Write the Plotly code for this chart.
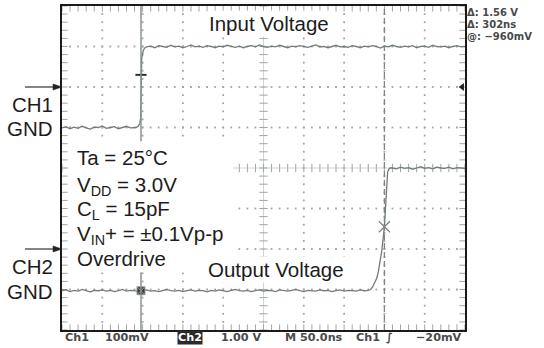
import plotly.graph_objects as go

# ---------------- channel data ----------------
# CH1 (input, mV) : flat low level, edge, flat high level
ch1_low_t = list(range(0, 95, 5))
ch1_low_mv = [-101, -98, -103, -99, -102, -97, -101, -104, -99, -100,
              -96, -102, -100, -98, -103, -100, -97, -101, -99]
ch1_edge_t = [92, 94.5, 96.5, 97.6, 98.2, 98.9, 100.9, 103]
ch1_edge_mv = [-100, -97, -90, -77, -5, 71, 91, 97]
ch1_high_t = list(range(105, 505, 5))
ch1_high_mv = [99, 101, 97, 102, 100, 98, 103, 99, 101, 97,
               100, 104, 99, 101, 98, 102, 100, 97, 101, 99,
               103, 100, 98, 101, 97, 100, 102, 99, 104, 100,
               98, 101, 99, 103, 100, 97, 101, 99, 102, 100,
               98, 101, 104, 99, 100, 97, 101, 103, 99, 100,
               98, 102, 100, 97, 101, 99, 102, 100, 96, 101,
               99, 103, 100, 98, 101, 99, 102, 97, 100, 101,
               98, 103, 100, 99, 101, 97, 100, 102, 99, 100]

# CH2 (output, V)
ch2_low_t = list(range(0, 385, 5))
ch2_low_v = [-1.03, -1.01, -1.05, -1.02, -1.04, -1.00, -1.03, -1.06, -1.02, -1.03,
             -1.01, -1.04, -1.02, -1.05, -1.03, -1.00, -1.04, -1.02, -1.03, -1.06,
             -1.02, -1.01, -1.04, -1.03, -1.05, -1.02, -1.00, -1.03, -1.04, -1.02,
             -1.05, -1.03, -1.01, -1.04, -1.02, -1.03, -1.06, -1.02, -1.04, -1.01,
             -1.03, -1.05, -1.02, -1.00, -1.03, -1.04, -1.02, -1.05, -1.03, -1.01,
             -1.04, -1.02, -1.03, -1.05, -1.01, -1.03, -1.04, -1.02, -1.00, -1.03,
             -1.05, -1.02, -1.03, -1.04, -1.01, -1.03, -1.02, -1.05, -1.03, -1.01,
             -1.04, -1.02, -1.03, -1.04, -1.01, -1.03, -1.02]
ch2_edge_t = [383, 385.5, 388, 390.5, 392.5, 394.5, 396.8, 400, 401.5, 402.8, 404, 405.5, 407]
ch2_edge_v = [-1.00, -0.93, -0.84, -0.72, -0.56, -0.36, -0.04, 0.55, 1.20, 1.70, 1.90, 1.97, 2.00]
ch2_high_t = list(range(410, 505, 5))
ch2_high_v = [2.00, 1.98, 2.02, 1.99, 2.01, 1.97, 2.00, 2.03, 1.99, 2.01,
              1.98, 2.02, 2.00, 1.99, 2.02, 1.98, 2.01, 2.00, 1.99]

# cursors / trigger
cursor_t1 = 98
cursor_t2 = 400
cursor1_ch1_mv = 30
cursor1_ch2_v = -1.03
cursor2_ch2_v = 0.55
trig_marker_mv = 0

# readouts
readouts = ["Δ: 1.56 V", "Δ: 302ns", "@: −960mV"]
bottom_labels = ["Ch1", "100mV", "Ch2", "1.00 V", "M 50.0ns", "Ch1", "∫", "−20mV"]
cond_lines = ["Ta = 25°C", "V<sub>DD</sub> = 3.0V", "C<sub>L</sub> = 15pF",
              "V<sub>IN</sub>+ = ±0.1Vp-p", "Overdrive"]

# screen scale: 10 x 50 ns, 8 x 100 mV (CH1) / 1 V (CH2)
T_RANGE = [0, 500]
CH1_RANGE = [-600, 200]
CH2_RANGE = [-2, 6]

# plot area in pixels
W, H = 544, 348
PL, PR, PT, PB = 62, 465, 4, 330


def px(xp, yp):
    return (xp - PL) / (PR - PL), (PB - yp) / (PB - PT)


fig = go.Figure()

GRID = "#9ea6a6"
TRACE = "#727a7a"

# ---- graticule dots ----
major_t = [50 * i for i in range(11)]
minor_t = [10 * i for i in range(51)]
major_mv = [-600 + 100 * i for i in range(9)]
minor_mv = [-600 + 20 * i for i in range(41)]
center_t, center_mv = 250, -200

gx, gy = [], []
for t in major_t:
    if t in (0, 500, center_t):
        continue
    for m in minor_mv[1:-1]:
        gx.append(t)
        gy.append(m)
for m in major_mv:
    if m in (-600, 200, center_mv):
        continue
    for t in minor_t[1:-1]:
        gx.append(t)
        gy.append(m)
fig.add_trace(go.Scatter(x=gx, y=gy, mode="markers", hoverinfo="skip",
                         marker=dict(symbol="square", size=1.8, color=GRID, line=dict(width=0))))

# centre axes with tick marks
fig.add_trace(go.Scatter(x=[0, 500], y=[center_mv, center_mv], mode="lines", hoverinfo="skip",
                         line=dict(color="#c4caca", width=0.8)))
fig.add_trace(go.Scatter(x=[center_t, center_t], y=CH1_RANGE, mode="lines", hoverinfo="skip",
                         line=dict(color="#c4caca", width=0.8)))
fig.add_trace(go.Scatter(x=minor_t, y=[center_mv] * len(minor_t), mode="markers", hoverinfo="skip",
                         marker=dict(symbol="line-ns", size=6, color=GRID, line=dict(color=GRID, width=1))))
fig.add_trace(go.Scatter(x=[center_t] * len(minor_mv), y=minor_mv, mode="markers", hoverinfo="skip",
                         marker=dict(symbol="line-ew", size=6, color=GRID, line=dict(color=GRID, width=1))))

# ticks along the frame edges (half clipped by the plot area)
fig.add_trace(go.Scatter(x=[0] * len(minor_mv) + [500] * len(minor_mv), y=minor_mv + minor_mv,
                         mode="markers", hoverinfo="skip",
                         marker=dict(symbol="line-ew", size=8, color=GRID, line=dict(color=GRID, width=1))))
fig.add_trace(go.Scatter(x=minor_t + minor_t, y=[-600] * len(minor_t) + [200] * len(minor_t),
                         mode="markers", hoverinfo="skip",
                         marker=dict(symbol="line-ns", size=8, color=GRID, line=dict(color=GRID, width=1))))

# ---- waveforms ----
fig.add_trace(go.Scatter(x=ch1_low_t + ch1_edge_t + ch1_high_t,
                         y=ch1_low_mv + ch1_edge_mv + ch1_high_mv,
                         mode="lines", line=dict(color=TRACE, width=1.3), hoverinfo="skip"))
fig.add_trace(go.Scatter(x=ch2_low_t + ch2_edge_t + ch2_high_t,
                         y=ch2_low_v + ch2_edge_v + ch2_high_v, yaxis="y2",
                         mode="lines", line=dict(color=TRACE, width=1.3), hoverinfo="skip"))

# cursor markers
fig.add_trace(go.Scatter(x=[cursor_t1], y=[cursor1_ch1_mv], mode="markers", hoverinfo="skip",
                         marker=dict(symbol="line-ew", size=8, color="#2e2e2e",
                                     line=dict(color="#2e2e2e", width=2))))
fig.add_trace(go.Scatter(x=[cursor_t1], y=[cursor1_ch2_v], yaxis="y2", mode="markers", hoverinfo="skip",
                         marker=dict(symbol="square-x", size=8, color="#3a3a3a",
                                     line=dict(color="#9a9a9a", width=1))))
fig.add_trace(go.Scatter(x=[cursor_t2], y=[cursor2_ch2_v], yaxis="y2", mode="markers", hoverinfo="skip",
                         marker=dict(symbol="x-thin-open", size=11, color="#7a8282",
                                     line=dict(color="#7a8282", width=1.2))))
# trigger level marker
fig.add_trace(go.Scatter(x=[496.5], y=[trig_marker_mv], mode="markers", hoverinfo="skip", cliponaxis=False,
                         marker=dict(symbol="triangle-left", size=7, color="#222")))

# ---- shapes: cursors and label backdrop ----
fig.add_shape(type="line", xref="x", yref="paper", x0=cursor_t1, x1=cursor_t1, y0=0, y1=1,
              line=dict(color="#8a9292", width=1.5), layer="above")
fig.add_shape(type="line", xref="x", yref="paper", x0=cursor_t2, x1=cursor_t2, y0=0, y1=1,
              line=dict(color="#7d8585", width=1.3, dash="6px,3px"), layer="above")
bx0, by0 = px(68, 272)
bx1, by1 = px(233, 140)
fig.add_shape(type="rect", xref="paper", yref="paper", x0=bx0, x1=bx1, y0=by0, y1=by1,
              fillcolor="white", line=dict(width=0), layer="above")

# ground reference arrows (CH1 on y, CH2 on y2), pointing at the left frame edge
arrow_x0 = px(25, 0)[0]
head_x = px(53, 0)[0]
for yref, half in (("y", 7.5), ("y2", 0.075)):
    fig.add_shape(type="line", xref="paper", yref=yref, x0=arrow_x0, x1=head_x, y0=0, y1=0,
                  line=dict(color="#222", width=1.1))
    fig.add_shape(type="path", xref="paper", yref=yref,
                  path=f"M {head_x},{half} L 0,0 L {head_x},{-half} Z",
                  fillcolor="#222", line=dict(color="#222", width=0.5))

# ---- text ----
BIG = dict(family="Liberation Sans, Arial, sans-serif", size=20.5, color="#1c1c1c")
SCOPE = dict(family="DejaVu Sans, sans-serif", size=11.2, color="#4a4a4a", weight="bold")

anns = []


def add_text(text, xp, yp, font, xanchor="center", **kw):
    x, y = px(xp, yp)
    anns.append(dict(text=text, x=x, y=y, xref="paper", yref="paper", showarrow=False,
                     xanchor=xanchor, yanchor="middle", font=font, **kw))


add_text("Input Voltage", 268.5, 21.5, BIG, bgcolor="white")
add_text("Output Voltage", 276, 269.5, BIG, bgcolor="white")

cond_y = [156.5, 185.4, 209.4, 234.4, 258]
for line, yp in zip(cond_lines, cond_y):
    add_text(line, 75, yp, BIG, xanchor="left")

add_text("CH1", 54.5, 103, BIG, xanchor="right")
add_text("GND", 54.5, 127, BIG, xanchor="right")
add_text("CH2", 54.5, 266, BIG, xanchor="right")
add_text("GND", 54.5, 291, BIG, xanchor="right")

RO = dict(SCOPE, size=10)
for line, yp in zip(readouts, [10.8, 22.5, 34.2]):
    add_text(line, 466, yp, RO, xanchor="left", borderpad=0)

bottom_x = [77, 126.7, 189.5, 240.8, 314.2, 367.5, 389, 439.2]
for lab, xp in zip(bottom_labels, bottom_x):
    if lab == "Ch2":
        add_text(lab, xp, 338, dict(SCOPE, color="white"), bgcolor="#2a2a2a", borderpad=0)
    else:
        add_text(lab, xp, 338, SCOPE)

fig.update_layout(
    width=W, height=H,
    margin=dict(l=PL, r=W - PR, t=PT, b=H - PB, pad=0),
    paper_bgcolor="white", plot_bgcolor="white",
    showlegend=False,
    annotations=anns,
    xaxis=dict(range=T_RANGE, showgrid=False, zeroline=False, showticklabels=False, ticks="",
               showline=True, mirror=True, linecolor="#1a1a1a", linewidth=2, fixedrange=True),
    yaxis=dict(range=CH1_RANGE, showgrid=False, zeroline=False, showticklabels=False, ticks="",
               showline=True, mirror=True, linecolor="#1a1a1a", linewidth=2, fixedrange=True),
    yaxis2=dict(range=CH2_RANGE, overlaying="y", showgrid=False, zeroline=False,
                showticklabels=False, ticks="", showline=False, fixedrange=True),
)

fig.write_html("out.html", config={"displayModeBar": False})
